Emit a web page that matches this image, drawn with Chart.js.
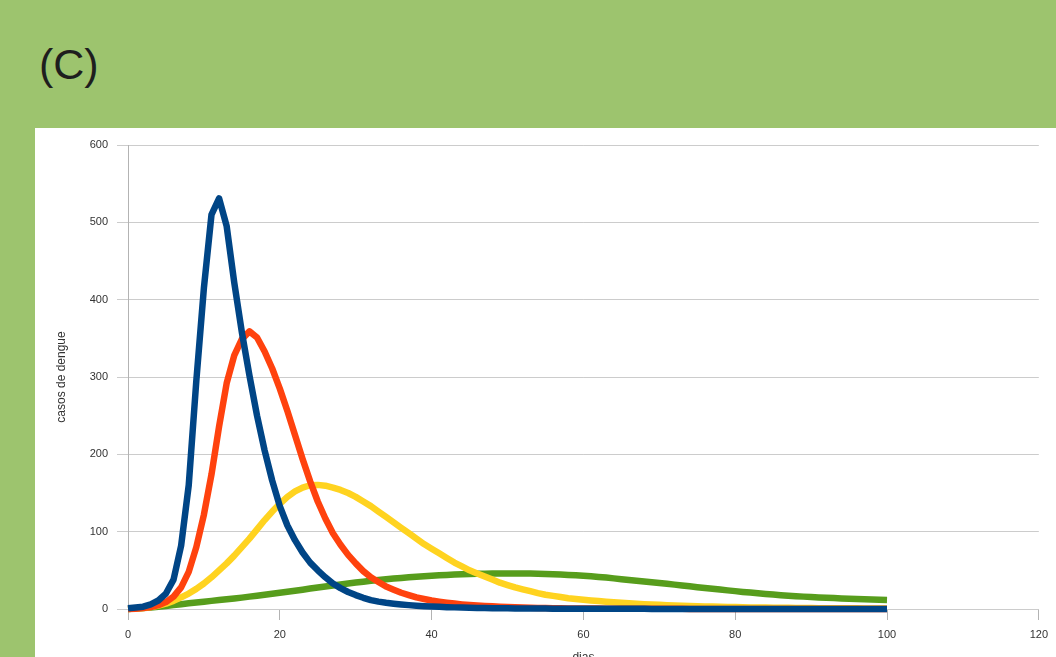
<!DOCTYPE html>
<html>
<head>
<meta charset="utf-8">
<script src="https://cdn.jsdelivr.net/npm/chart.js@4/dist/chart.umd.min.js"></script>
<style>
  html, body { margin: 0; padding: 0; width: 1056px; height: 657px; overflow: hidden; background: #9dc46e; }
  #panel { position: absolute; left: 35px; top: 128px; right: 0; bottom: 0; background: #ffffff; }
  #label { position: absolute; left: 39px; top: 43px; font-family: "Liberation Sans", Arial, sans-serif; font-size: 43px; line-height: 43px; color: #1e1e1e; }
  #c { position: absolute; left: 0; top: 0; }
</style>
</head>
<body>
<div id="panel"></div>
<div id="label">(C)</div>
<canvas id="c" width="1056" height="657"></canvas>
<script>
const days = [0,1,2,3,4,5,6,7,8,9,10,11,12,13,14,15,16,17,18,19,20,21,22,23,24,25,26,27,28,29,30,31,32,33,34,35,36,37,38,39,40,41,42,43,44,45,46,47,48,49,50,51,52,53,54,55,56,57,58,59,60,61,62,63,64,65,66,67,68,69,70,71,72,73,74,75,76,77,78,79,80,81,82,83,84,85,86,87,88,89,90,91,92,93,94,95,96,97,98,99,100];

const blueSeries = [1,2,3,6,11,20,38,82,160,295,415,510,531,495,422,358,302,250,205,166,133,108,89,73,60,50,41,33,27,22,18,14.5,11.5,9.5,8,6.8,5.8,5,4.3,3.7,3.2,2.8,2.4,2.1,1.8,1.6,1.4,1.2,1.1,1,0.9,0.8,0.7,0.6,0.55,0.5,0.45,0.4,0.35,0.3,0.3,0.28,0.26,0.24,0.22,0.2,0.19,0.18,0.17,0.16,0.15,0.14,0.13,0.12,0.11,0.1,0.1,0.09,0.09,0.08,0.08,0.07,0.07,0.07,0.06,0.06,0.06,0.06,0.05,0.05,0.05,0.05,0.05,0.04,0.04,0.04,0.04,0.04,0.03,0.03,0.03];

const redSeries = [0,0.4,1.2,2.6,5,9,16,28,48,80,122,174,236,292,328,349,359,351,333,311,285,256,225,194,165,139,117,98,83,70,59,49,41,35,29,25,21,18,15,13,11,9.5,8.2,7,6,5.2,4.5,3.9,3.4,2.9,2.5,2.2,1.9,1.6,1.4,1.2,1.05,0.9,0.8,0.7,0.6,0.55,0.5,0.45,0.4,0.36,0.33,0.3,0.27,0.25,0.22,0.2,0.18,0.17,0.15,0.14,0.13,0.12,0.11,0.1,0.09,0.08,0.08,0.07,0.07,0.06,0.06,0.05,0.05,0.05,0.04,0.04,0.04,0.04,0.03,0.03,0.03,0.03,0.03,0.03,0.03];

const yellowSeries = [0,0.5,1.3,2.6,4.5,7,10.5,15,20,26,33,41,50,59,69,80,91,103,115,126,136,145,152,157,160,160.5,159.5,157,154,150,145,139,133,126,119,112,105,98,91,84,78,72,66,60,55,50,46,42,38,34,31,28,25.5,23,20.5,18.5,17,15.5,14,13,12,11,10.2,9.4,8.7,8,7.4,6.8,6.3,5.8,5.4,5,4.6,4.2,3.9,3.6,3.3,3.1,2.9,2.7,2.5,2.3,2.1,2,1.8,1.7,1.6,1.5,1.4,1.3,1.2,1.1,1.05,1,0.95,0.9,0.85,0.8,0.75,0.7,0.65];

const greenSeries = [0,0.5,1.2,2,3,4,5,6.2,7.3,8.4,9.5,10.5,11.5,12.5,13.5,14.7,16,17.2,18.5,19.8,21,22.3,23.6,25,26.4,27.8,29.2,30.5,31.8,33,34.2,35.3,36.4,37.4,38.4,39.3,40.2,41,41.7,42.4,43,43.6,44.1,44.5,44.9,45.2,45.5,45.7,45.8,45.9,46,46,45.9,45.8,45.6,45.3,45,44.6,44.1,43.6,43,42.3,41.5,40.6,39.6,38.6,37.6,36.6,35.6,34.6,33.6,32.6,31.5,30.4,29.3,28.2,27.1,26.1,25.1,24.1,23.1,22.1,21.2,20.3,19.5,18.7,17.9,17.2,16.6,16,15.5,15,14.5,14.1,13.7,13.3,12.9,12.6,12.3,12,11.7];

const xTickStep = 20;
const yTickStep = 100;
const xMax = 120;
const yMax = 600;
const yTitle = 'casos de dengue';
const xTitle = 'dias';

function pts(series) { return days.map((d, i) => ({ x: d, y: series[i] })); }

const lineStyle = { borderWidth: 6.5, pointRadius: 0, tension: 0, fill: false, clip: false, borderJoinStyle: 'round' };

new Chart(document.getElementById('c'), {
  type: 'line',
  data: {
    datasets: [
      Object.assign({ label: 'A', data: pts(blueSeries), borderColor: '#004586' }, lineStyle),
      Object.assign({ label: 'B', data: pts(redSeries), borderColor: '#ff420e' }, lineStyle),
      Object.assign({ label: 'C', data: pts(yellowSeries), borderColor: '#ffd320' }, lineStyle),
      Object.assign({ label: 'D', data: pts(greenSeries), borderColor: '#579d1c' }, lineStyle)
    ]
  },
  options: {
    responsive: false,
    animation: false,
    devicePixelRatio: 1,
    layout: { padding: { left: 0, right: 16, top: 145, bottom: 0 } },
    plugins: { legend: { display: false }, tooltip: { enabled: false } },
    scales: {
      x: {
        type: 'linear', min: 0, max: xMax,
        ticks: { stepSize: xTickStep, color: '#333333', padding: 8, maxRotation: 0, font: { family: 'Liberation Sans', size: 11 } },
        grid: { drawOnChartArea: false, drawTicks: true, tickLength: 11, color: '#b3b3b3' },
        border: { display: false },
        title: { display: true, text: xTitle, color: '#333333', font: { family: 'Liberation Sans', size: 12 }, padding: { top: 0, bottom: -8 } },
        afterFit: s => { s.height = 48; }
      },
      y: {
        type: 'linear', min: 0, max: yMax,
        ticks: { stepSize: yTickStep, color: '#333333', padding: 9, font: { family: 'Liberation Sans', size: 11 } },
        grid: { color: '#cccccc', tickLength: 11, drawTicks: true },
        border: { display: true, color: '#b3b3b3' },
        title: { display: true, text: yTitle, color: '#333333', font: { family: 'Liberation Sans', size: 12 }, padding: { top: 54, bottom: 0 } },
        afterFit: s => { s.width = 128; }
      }
    }
  }
});
</script>
</body>
</html>
